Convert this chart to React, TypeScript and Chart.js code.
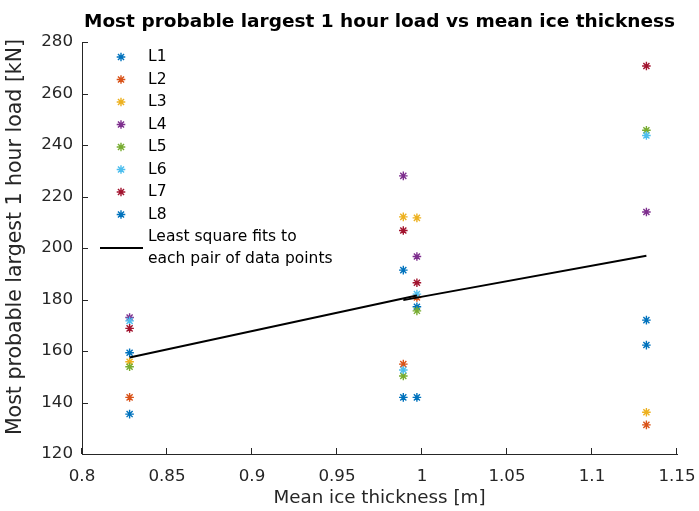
import React, { useEffect, useRef } from 'react';
import { Chart, registerables } from 'chart.js';

Chart.register(...registerables);

// ---- data ----
const thickness = [0.828, 0.989, 0.997, 1.132];
const seriesNames = ['L1', 'L2', 'L3', 'L4', 'L5', 'L6', 'L7', 'L8'];
const L1 = [159.3, 191.4, 177.2, 172.0];
const L2 = [142.0, 154.9, 180.8, 131.3];
const L3 = [155.8, 212.1, 211.7, 136.2];
const L4 = [173.0, 228.0, 196.7, 214.0];
const L5 = [153.9, 150.3, 175.6, 245.7];
const L6 = [171.7, 152.6, 182.1, 243.7];
const L7 = [168.8, 206.8, 186.5, 270.7];
const L8 = [135.5, 142.0, 142.0, 162.3];
const seriesValues = [L1, L2, L3, L4, L5, L6, L7, L8];
const seriesColors = ['#0072BD', '#D95319', '#EDB120', '#7E2F8E', '#77AC30', '#4DBEEE', '#A2142F', '#0072BD'];
const fitPairs = [[0, 2], [1, 3]];
const xTicks = [0.8, 0.85, 0.9, 0.95, 1, 1.05, 1.1, 1.15];
const xTickLabels = ['0.8', '0.85', '0.9', '0.95', '1', '1.05', '1.1', '1.15'];
const yTicks = [120, 140, 160, 180, 200, 220, 240, 260, 280];
const titleText = 'Most probable largest 1 hour load vs mean ice thickness';
const xLabel = 'Mean ice thickness [m]';
const yLabel = 'Most probable largest 1 hour load [kN]';
const fitLabel = ['Least square fits to', 'each pair of data points'];

const FONT = "'DejaVu Sans', sans-serif";
const AXIS = '#262626';

function fitLine(a: number, b: number) {
  const pts: { x: number; y: number }[] = [];
  seriesValues.forEach((s) => {
    pts.push({ x: thickness[a], y: s[a] });
    pts.push({ x: thickness[b], y: s[b] });
  });
  const n = pts.length;
  const mx = pts.reduce((t, p) => t + p.x, 0) / n;
  const my = pts.reduce((t, p) => t + p.y, 0) / n;
  let sxy = 0, sxx = 0;
  pts.forEach((p) => { sxy += (p.x - mx) * (p.y - my); sxx += (p.x - mx) * (p.x - mx); });
  const k = sxy / sxx;
  const c = my - k * mx;
  return [
    { x: thickness[a], y: k * thickness[a] + c },
    { x: thickness[b], y: k * thickness[b] + c },
  ];
}

function drawStar(ctx: CanvasRenderingContext2D, x: number, y: number, r: number, color: string) {
  const d = Math.cos(Math.PI / 4) * r;
  ctx.save();
  ctx.strokeStyle = color;
  ctx.lineWidth = 1.4;
  ctx.beginPath();
  ctx.moveTo(x - r, y); ctx.lineTo(x + r, y);
  ctx.moveTo(x, y - r); ctx.lineTo(x, y + r);
  ctx.moveTo(x - d, y - d); ctx.lineTo(x + d, y + d);
  ctx.moveTo(x - d, y + d); ctx.lineTo(x + d, y - d);
  ctx.stroke();
  ctx.restore();
}

const innerTicks = {
  id: 'innerTicks',
  afterDraw(chart: any) {
    const { ctx, chartArea } = chart;
    const xs = chart.scales.x;
    const ys = chart.scales.y;
    ctx.save();
    ctx.strokeStyle = AXIS;
    ctx.lineWidth = 1;
    ctx.beginPath();
    xs.ticks.forEach((t: any) => {
      const px = Math.round(xs.getPixelForValue(t.value)) - 0.5;
      ctx.moveTo(px, chartArea.bottom);
      ctx.lineTo(px, chartArea.bottom - 6);
    });
    ys.ticks.forEach((t: any) => {
      const py = Math.round(ys.getPixelForValue(t.value)) + 0.5;
      ctx.moveTo(chartArea.left, py);
      ctx.lineTo(chartArea.left + 6, py);
    });
    ctx.stroke();
    ctx.restore();
  },
};

const yAxisLabel = {
  id: 'yAxisLabel',
  afterDraw(chart: any) {
    const { ctx } = chart;
    ctx.save();
    ctx.translate(15.5, 237);
    ctx.rotate(-Math.PI / 2);
    ctx.font = `20.5px ${FONT}`;
    ctx.fillStyle = AXIS;
    ctx.textAlign = 'center';
    ctx.textBaseline = 'middle';
    ctx.fillText(yLabel, 0, 0);
    ctx.restore();
  },
};

const customLegend = {
  id: 'customLegend',
  afterDraw(chart: any) {
    const { ctx, chartArea } = chart;
    const markerX = chartArea.left + 39;
    const textX = chartArea.left + 66;
    const top = chartArea.top + 15;
    const step = 22.5;
    ctx.save();
    ctx.font = `15.5px ${FONT}`;
    ctx.fillStyle = '#000';
    ctx.textBaseline = 'middle';
    ctx.textAlign = 'left';
    seriesNames.forEach((name, i) => {
      const y = top + i * step;
      drawStar(ctx, markerX, y, 4.3, seriesColors[i]);
      ctx.fillText(name, textX, y);
    });
    const y1 = top + 8 * step;
    const y2 = y1 + 22;
    const ym = (y1 + y2) / 2;
    ctx.strokeStyle = '#000';
    ctx.lineWidth = 2;
    ctx.beginPath();
    ctx.moveTo(chartArea.left + 18, ym);
    ctx.lineTo(chartArea.left + 61, ym);
    ctx.stroke();
    ctx.fillText(fitLabel[0], textX, y1);
    ctx.fillText(fitLabel[1], textX, y2);
    ctx.restore();
  },
};

export default function App() {
  const ref = useRef<HTMLCanvasElement | null>(null);

  useEffect(() => {
    document.body.style.margin = '0';
    const canvas = ref.current;
    if (!canvas) return;

    const datasets: any[] = [];
    fitPairs.forEach(([a, b]) => {
      datasets.push({
        type: 'line',
        label: fitLabel.join(' '),
        data: fitLine(a, b),
        showLine: true,
        borderColor: '#000',
        borderWidth: 2,
        pointRadius: 0,
        fill: false,
        order: 0,
      });
    });
    seriesNames.forEach((name, i) => {
      datasets.push({
        type: 'scatter',
        label: name,
        data: thickness.map((x, j) => ({ x, y: seriesValues[i][j] })),
        borderColor: seriesColors[i],
        backgroundColor: seriesColors[i],
        pointStyle: 'star',
        pointRadius: 4.3,
        pointBorderWidth: 1.4,
        showLine: false,
        order: 8 - i,
      });
    });

    const chart = new Chart(canvas, {
      type: 'scatter',
      data: { datasets },
      options: {
        animation: false,
        responsive: false,
        events: [],
        layout: { padding: { left: 0, right: 22, top: 0, bottom: 0 } },
        plugins: {
          legend: { display: false },
          tooltip: { enabled: false },
          title: {
            display: true,
            text: titleText,
            fullSize: false,
            color: '#000',
            font: { family: FONT, size: 18.5, weight: 'bold', lineHeight: 1.2 },
            padding: { top: 11, bottom: 8.8 },
          },
        },
        scales: {
          x: {
            type: 'linear',
            position: 'bottom',
            min: 0.8,
            max: 1.15,
            afterBuildTicks: (s: any) => { s.ticks = xTicks.map((v) => ({ value: v })); },
            afterFit: (s: any) => {
              s.height = 57;
              s.paddingLeft = 0;
              s.paddingRight = 0;
            },
            grid: { display: false, drawTicks: false, tickLength: 0 },
            border: { display: true, color: AXIS, width: 1 },
            ticks: {
              callback: (_v: any, i: number) => xTickLabels[i],
              font: { family: FONT, size: 16.7 },
              color: AXIS,
              padding: 13,
              maxRotation: 0,
              autoSkip: false,
            },
            title: {
              display: true,
              text: xLabel,
              color: AXIS,
              font: { family: FONT, size: 18.3 },
              padding: { top: 0, bottom: 2 },
            },
          },
          y: {
            type: 'linear',
            position: 'left',
            min: 120,
            max: 280,
            afterBuildTicks: (s: any) => { s.ticks = yTicks.map((v) => ({ value: v })); },
            afterFit: (s: any) => {
              s.width = 82;
              s.paddingTop = 0;
              s.paddingBottom = 0;
            },
            grid: { display: false, drawTicks: false, tickLength: 0 },
            border: { display: true, color: AXIS, width: 1 },
            ticks: {
              callback: (v: any) => String(v),
              font: { family: FONT, size: 16.7 },
              color: AXIS,
              padding: 9,
              autoSkip: false,
            },
            title: { display: false, text: yLabel },
          },
        },
      },
      plugins: [innerTicks, customLegend, yAxisLabel],
    } as any);

    return () => chart.destroy();
  }, []);

  return (
    <div style={{ position: 'absolute', left: 0, top: 0, width: 699, height: 511 }}>
      <canvas ref={ref} width={699} height={511} style={{ width: 699, height: 511 }} />
    </div>
  );
}
